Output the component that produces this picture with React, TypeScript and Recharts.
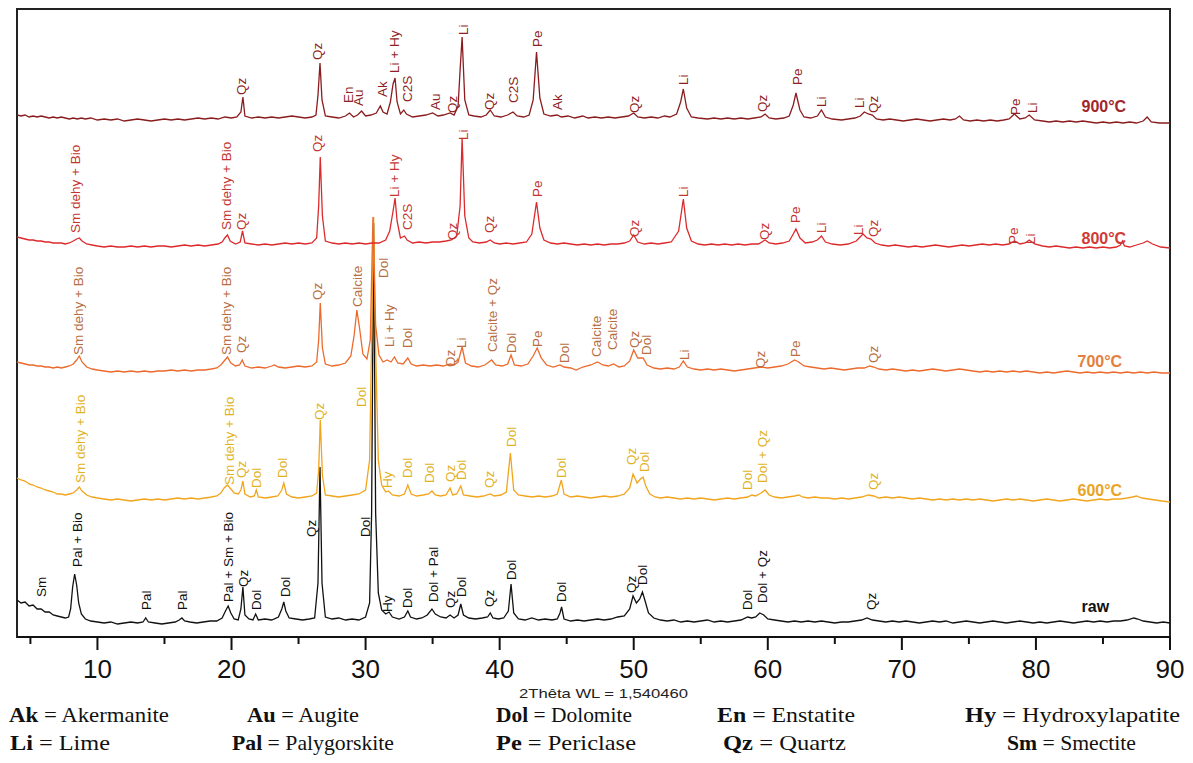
import React from 'react';
import { ComposedChart, Line, XAxis, YAxis, Scatter, ReferenceArea } from 'recharts';

// ---------- axis ----------
const X_DOMAIN: [number, number] = [4, 90];
const Y_DOMAIN: [number, number] = [0, 628];
const X_TICKS = [5, 10, 15, 20, 25, 30, 35, 40, 45, 50, 55, 60, 65, 70, 75, 80, 85, 90];

// ---------- vertical offsets of stacked patterns ----------
const OFFSET_RAW = 14;
const OFFSET_600 = 137;
const OFFSET_700 = 267;
const OFFSET_800 = 391;
const OFFSET_900 = 517;

// ---------- diffractograms: [2θ, intensity above own baseline] ----------
const RAW_PATTERN: [number, number][] = [
  [4.0,23],[4.3,20],[4.6,21],[4.9,17],[5.2,18],[5.5,14],[5.8,14],[6.1,11],[6.4,11],[6.7,8],[7.0,7],[7.3,6],[7.6,5],[7.85,6],[8.0,14],[8.15,36],[8.3,49],[8.45,38],[8.6,20],[8.8,9],[9.1,4],[9.5,2],[10.0,1],[10.5,0],[11.0,1],[11.5,-1],[12.0,0],[12.5,1],[13.0,0],[13.4,1],[13.6,5],[13.8,1],[14.3,0],[14.8,-1],[15.3,0],[15.8,1],[16.1,3],[16.3,5],[16.5,2],[16.9,1],[17.4,0],[17.9,1],[18.4,2],[18.9,2],[19.3,5],[19.55,12],[19.75,17],[19.95,10],[20.2,4],[20.5,3],[20.7,14],[20.85,36],[21.0,8],[21.3,4],[21.6,3],[21.8,9],[22.0,3],[22.5,4],[23.0,3],[23.5,6],[23.75,14],[23.9,21],[24.05,12],[24.3,5],[24.8,4],[25.3,3],[25.8,4],[26.2,5],[26.45,40],[26.6,156],[26.75,40],[27.0,6],[27.5,4],[28.0,5],[28.5,3],[29.0,4],[29.5,3],[30.0,6],[30.3,20],[30.45,110],[30.6,400],[30.75,110],[30.95,30],[31.2,13],[31.5,9],[31.75,11],[32.0,6],[32.5,4],[32.9,6],[33.15,12],[33.35,6],[33.8,4],[34.2,5],[34.6,8],[34.95,14],[35.2,9],[35.6,6],[36.0,5],[36.3,8],[36.6,5],[36.9,8],[37.1,19],[37.3,8],[37.7,5],[38.2,4],[38.7,5],[39.1,6],[39.3,10],[39.5,5],[39.9,4],[40.3,5],[40.65,12],[40.85,39],[41.05,10],[41.4,4],[41.9,3],[42.4,5],[42.9,3],[43.4,4],[43.9,3],[44.3,4],[44.5,10],[44.62,16],[44.8,4],[45.3,2],[45.8,3],[46.3,2],[46.8,3],[47.3,4],[47.8,3],[48.3,4],[48.8,6],[49.3,7],[49.7,14],[49.95,27],[50.2,20],[50.45,24],[50.65,31],[50.85,22],[51.1,10],[51.5,5],[52.0,3],[52.5,2],[53.0,3],[53.5,1],[54.0,2],[54.5,1],[55.0,2],[55.5,3],[56.0,1],[56.5,2],[57.0,1],[57.5,2],[58.0,3],[58.5,6],[58.8,5],[59.1,6],[59.4,10],[59.7,8],[60.0,4],[60.5,3],[61.0,2],[61.5,1],[62.0,2],[62.5,1],[63.0,2],[63.5,1],[64.0,2],[64.5,1],[65.0,0],[65.5,1],[66.0,1],[66.5,2],[67.0,3],[67.4,5],[67.8,3],[68.3,2],[68.8,1],[69.3,2],[69.8,1],[70.3,2],[70.8,1],[71.3,0],[71.8,1],[72.3,2],[72.8,1],[73.3,2],[73.8,0],[74.3,1],[74.8,2],[75.3,1],[75.8,0],[76.3,1],[76.8,2],[77.3,1],[77.8,0],[78.3,1],[78.8,2],[79.3,1],[79.8,0],[80.3,1],[80.8,0],[81.3,1],[81.8,2],[82.3,1],[82.8,0],[83.3,1],[83.8,2],[84.3,1],[84.8,2],[85.3,1],[85.8,2],[86.3,2],[86.8,3],[87.3,5],[87.6,4],[88.0,2],[88.5,1],[89.0,0],[89.5,1],[90.0,0]
];

const P600_PATTERN: [number, number][] = [
  [4.0,22],[4.3,20],[4.6,19],[4.9,16],[5.2,15],[5.5,13],[5.8,12],[6.1,10],[6.4,9],[6.7,8],[7.0,6],[7.3,6],[7.6,5],[7.9,6],[8.2,7],[8.45,10],[8.65,13],[8.85,9],[9.2,5],[9.6,3],[10.0,2],[10.5,1],[11.0,0],[11.5,1],[12.0,0],[12.5,-1],[13.0,0],[13.5,1],[14.0,0],[14.5,1],[15.0,0],[15.5,1],[16.0,2],[16.5,1],[17.0,2],[17.5,1],[18.0,2],[18.5,3],[18.9,4],[19.2,7],[19.45,12],[19.7,15],[19.95,11],[20.2,7],[20.5,6],[20.7,10],[20.85,19],[21.0,6],[21.4,3],[21.7,4],[21.85,10],[22.0,3],[22.5,2],[23.0,3],[23.45,4],[23.75,10],[23.9,17],[24.1,6],[24.5,3],[25.0,2],[25.5,3],[26.0,4],[26.35,7],[26.5,30],[26.62,80],[26.78,25],[27.0,5],[27.5,4],[28.0,3],[28.5,4],[29.0,5],[29.5,6],[30.0,10],[30.3,40],[30.45,160],[30.6,283],[30.75,150],[30.95,40],[31.2,15],[31.5,8],[31.7,9],[32.0,5],[32.5,4],[32.9,6],[33.15,15],[33.4,6],[33.8,4],[34.3,5],[34.7,6],[34.95,9],[35.2,5],[35.6,4],[36.0,5],[36.3,12],[36.5,5],[36.8,6],[37.1,14],[37.3,5],[37.8,4],[38.3,3],[38.8,4],[39.3,6],[39.6,4],[40.1,5],[40.5,8],[40.8,47],[41.05,10],[41.4,5],[41.9,4],[42.4,3],[42.9,4],[43.4,3],[43.9,4],[44.3,6],[44.6,20],[44.8,6],[45.3,3],[45.8,4],[46.3,3],[46.8,2],[47.3,3],[47.8,4],[48.3,3],[48.8,4],[49.3,6],[49.7,12],[49.95,26],[50.25,17],[50.5,21],[50.7,23],[50.9,14],[51.2,6],[51.6,3],[52.0,2],[52.5,3],[53.0,2],[53.5,1],[54.0,2],[54.5,1],[55.0,2],[55.5,1],[56.0,0],[56.5,1],[57.0,2],[57.5,1],[58.0,2],[58.5,3],[58.8,5],[59.1,4],[59.5,7],[59.8,10],[60.1,5],[60.5,3],[61.0,2],[61.5,3],[62.0,4],[62.3,5],[62.6,3],[63.0,2],[63.5,3],[64.0,2],[64.5,2],[65.0,1],[65.5,2],[66.0,1],[66.5,2],[67.0,3],[67.5,5],[67.9,4],[68.3,2],[68.8,3],[69.3,2],[69.8,3],[70.3,2],[70.8,1],[71.3,2],[71.8,1],[72.3,0],[72.8,1],[73.3,0],[73.8,1],[74.3,0],[74.8,1],[75.3,0],[75.8,1],[76.3,0],[76.8,-1],[77.3,0],[77.8,1],[78.3,0],[78.8,1],[79.3,0],[79.8,-1],[80.3,0],[80.8,1],[81.3,0],[81.8,-1],[82.3,0],[82.8,1],[83.3,0],[83.8,-1],[84.3,0],[84.8,1],[85.3,0],[85.8,1],[86.3,1],[86.8,2],[87.2,3],[87.5,4],[87.9,2],[88.4,1],[88.9,0],[89.4,-1],[90.0,-2]
];

const P700_PATTERN: [number, number][] = [
  [4.0,8],[4.3,7],[4.6,6],[4.9,5],[5.2,5],[5.5,4],[5.8,4],[6.1,3],[6.4,3],[6.7,2],[7.0,3],[7.3,2],[7.6,3],[7.9,4],[8.2,6],[8.45,10],[8.65,14],[8.85,8],[9.2,3],[9.6,1],[10.0,0],[10.5,-1],[11.0,-2],[11.5,-1],[12.0,-2],[12.5,-1],[13.0,-2],[13.5,-1],[14.0,-2],[14.5,-1],[15.0,-1],[15.5,0],[16.0,-1],[16.5,0],[17.0,-1],[17.5,0],[18.0,0],[18.5,1],[18.9,2],[19.2,5],[19.45,9],[19.7,13],[19.95,7],[20.3,4],[20.6,5],[20.8,10],[21.0,4],[21.5,2],[22.0,3],[22.5,2],[23.0,4],[23.2,5],[23.5,3],[24.0,2],[24.5,3],[25.0,4],[25.5,3],[26.0,4],[26.35,8],[26.5,30],[26.62,67],[26.78,22],[27.0,6],[27.5,4],[28.0,5],[28.5,7],[28.9,14],[29.15,35],[29.35,60],[29.55,42],[29.8,16],[30.1,11],[30.35,30],[30.55,153],[30.75,45],[31.0,15],[31.3,8],[31.6,10],[31.9,8],[32.15,13],[32.4,7],[32.8,6],[33.15,12],[33.4,6],[33.8,4],[34.3,5],[34.8,4],[35.3,5],[35.8,4],[36.3,6],[36.6,5],[36.9,8],[37.2,23],[37.45,7],[37.9,4],[38.4,3],[38.9,5],[39.2,8],[39.4,10],[39.7,5],[40.2,4],[40.6,6],[40.85,15],[41.1,5],[41.6,4],[42.1,6],[42.5,14],[42.8,22],[43.1,12],[43.5,5],[44.0,3],[44.5,5],[44.8,3],[45.3,2],[45.7,0],[46.2,3],[46.8,5],[47.3,8],[47.7,5],[48.1,4],[48.5,6],[48.9,3],[49.3,4],[49.7,9],[50.0,20],[50.3,12],[50.7,12],[51.0,5],[51.5,2],[52.0,1],[52.5,2],[53.0,1],[53.4,3],[53.7,9],[54.0,3],[54.5,1],[55.0,0],[55.5,1],[56.0,0],[56.5,1],[57.0,0],[57.5,-1],[58.0,0],[58.5,1],[59.0,2],[59.5,3],[60.0,2],[60.5,3],[61.0,4],[61.5,6],[62.0,10],[62.3,8],[62.7,4],[63.2,3],[63.7,2],[64.2,1],[64.7,2],[65.2,1],[65.7,0],[66.2,1],[66.7,2],[67.2,2],[67.6,4],[67.9,3],[68.3,1],[68.8,0],[69.3,1],[69.8,0],[70.3,-1],[70.8,0],[71.3,-1],[71.8,0],[72.3,1],[72.8,0],[73.3,-1],[73.8,0],[74.3,1],[74.8,0],[75.3,-1],[75.8,-2],[76.3,-1],[76.8,-2],[77.3,-1],[77.8,-2],[78.3,-1],[78.8,-2],[79.3,-1],[79.8,-2],[80.3,-3],[80.8,-2],[81.3,-3],[81.8,-2],[82.3,-1],[82.8,-2],[83.3,-3],[83.8,-2],[84.3,-3],[84.8,-2],[85.3,-3],[85.8,-2],[86.3,-3],[86.8,-2],[87.3,-3],[87.8,-2],[88.3,-3],[88.8,-2],[89.4,-3],[90.0,-3]
];

const P800_PATTERN: [number, number][] = [
  [4.0,9],[4.3,8],[4.6,7],[4.9,6],[5.2,6],[5.5,5],[5.8,5],[6.1,4],[6.4,4],[6.7,3],[7.0,3],[7.3,3],[7.6,2],[7.9,3],[8.2,5],[8.45,7],[8.65,8],[8.85,5],[9.2,2],[9.6,1],[10.0,0],[10.5,-1],[11.0,0],[11.5,-1],[12.0,-1],[12.5,0],[13.0,-1],[13.5,0],[14.0,-1],[14.5,0],[15.0,0],[15.5,-1],[16.0,0],[16.5,1],[17.0,0],[17.5,1],[18.0,0],[18.5,1],[19.0,2],[19.3,4],[19.5,8],[19.7,11],[19.9,5],[20.3,2],[20.65,4],[20.82,15],[21.0,3],[21.5,2],[22.0,1],[22.5,2],[23.0,1],[23.5,2],[24.0,3],[24.5,2],[25.0,3],[25.5,2],[26.0,3],[26.35,8],[26.5,40],[26.62,89],[26.78,30],[27.0,5],[27.5,3],[28.0,2],[28.5,3],[29.0,2],[29.5,3],[30.0,2],[30.5,3],[31.0,3],[31.5,6],[31.8,15],[32.05,35],[32.2,48],[32.35,25],[32.6,8],[32.9,10],[33.1,6],[33.5,3],[34.0,4],[34.5,3],[35.0,4],[35.5,4],[36.0,5],[36.4,6],[36.8,10],[37.05,40],[37.2,108],[37.4,30],[37.7,8],[38.0,4],[38.5,3],[39.0,4],[39.3,6],[39.6,3],[40.0,2],[40.5,3],[41.0,2],[41.5,3],[42.0,4],[42.4,12],[42.75,44],[43.0,18],[43.3,6],[43.8,3],[44.3,2],[44.8,3],[45.3,2],[45.8,1],[46.3,2],[46.8,1],[47.3,2],[47.8,1],[48.3,2],[48.8,2],[49.3,3],[49.7,5],[50.0,11],[50.3,4],[50.8,2],[51.3,3],[51.8,2],[52.3,3],[52.8,4],[53.35,15],[53.7,47],[53.95,18],[54.3,5],[54.8,2],[55.3,1],[55.8,2],[56.3,1],[56.8,2],[57.3,1],[57.8,2],[58.3,1],[58.8,2],[59.3,2],[59.8,6],[60.1,3],[60.6,2],[61.1,3],[61.6,5],[61.9,12],[62.1,17],[62.4,8],[62.8,3],[63.3,4],[63.7,6],[64.0,10],[64.3,4],[64.8,2],[65.4,1],[66.0,2],[66.6,5],[67.1,12],[67.4,8],[67.7,7],[68.0,3],[68.5,1],[69.0,0],[69.5,1],[70.0,0],[70.5,-1],[71.0,0],[71.5,-1],[72.0,0],[72.5,1],[73.0,0],[73.5,-1],[74.0,0],[74.5,1],[75.0,0],[75.5,1],[76.0,2],[76.5,1],[77.0,2],[77.5,1],[78.0,2],[78.4,5],[78.8,2],[79.2,3],[79.5,6],[79.9,2],[80.5,0],[81.0,-1],[81.5,0],[82.0,-1],[82.5,-2],[83.0,-1],[83.5,-2],[84.0,-1],[84.5,-2],[85.0,-1],[85.5,-2],[86.0,-1],[86.3,1],[86.45,5],[86.6,0],[87.0,-1],[87.5,1],[88.0,3],[88.3,5],[88.7,2],[89.3,-1],[90.0,-2]
];

const P900_PATTERN: [number, number][] = [
  [4.0,5],[4.3,4],[4.6,5],[4.9,3],[5.2,4],[5.5,3],[5.8,4],[6.1,3],[6.4,2],[6.7,3],[7.0,2],[7.3,3],[7.6,2],[7.9,1],[8.2,2],[8.5,1],[8.8,2],[9.1,1],[9.5,2],[10.0,0],[10.5,1],[11.0,0],[11.5,1],[12.0,-1],[12.5,0],[13.0,1],[13.5,0],[14.0,-1],[14.5,0],[15.0,1],[15.5,0],[16.0,1],[16.5,0],[17.0,1],[17.5,2],[18.0,1],[18.5,2],[19.0,1],[19.5,3],[20.0,2],[20.4,3],[20.7,8],[20.85,23],[21.0,4],[21.5,2],[22.0,3],[22.5,2],[23.0,3],[23.5,2],[24.0,3],[24.5,4],[25.0,3],[25.5,2],[26.0,3],[26.3,5],[26.45,25],[26.6,57],[26.75,20],[27.0,4],[27.5,3],[28.0,2],[28.5,4],[28.8,7],[29.1,3],[29.4,5],[29.7,9],[30.0,4],[30.4,5],[30.8,7],[31.1,14],[31.3,8],[31.6,6],[31.85,18],[32.05,36],[32.2,42],[32.35,18],[32.6,6],[32.85,10],[33.05,6],[33.5,3],[34.0,4],[34.5,5],[35.0,7],[35.4,4],[35.8,5],[36.3,7],[36.6,5],[36.9,14],[37.05,50],[37.2,83],[37.4,20],[37.7,5],[38.1,4],[38.6,3],[39.0,5],[39.3,10],[39.6,4],[40.1,3],[40.6,5],[41.0,8],[41.3,4],[41.8,3],[42.2,5],[42.5,20],[42.75,68],[43.0,22],[43.3,6],[43.8,4],[44.3,5],[44.6,3],[45.1,4],[45.6,2],[46.2,4],[46.6,2],[47.1,3],[47.6,2],[48.1,3],[48.6,2],[49.1,3],[49.6,4],[50.0,7],[50.3,3],[50.8,2],[51.3,3],[51.8,2],[52.3,4],[52.7,3],[53.2,6],[53.5,18],[53.7,31],[53.95,12],[54.3,3],[54.8,2],[55.5,1],[56.0,2],[56.5,1],[57.0,2],[57.5,1],[58.0,2],[58.5,1],[59.0,2],[59.5,3],[59.8,6],[60.1,2],[60.6,1],[61.2,2],[61.6,4],[61.9,15],[62.1,27],[62.4,10],[62.7,3],[63.2,2],[63.7,4],[64.0,10],[64.3,3],[64.8,1],[65.5,0],[66.0,1],[66.5,2],[66.9,4],[67.2,8],[67.5,6],[67.8,5],[68.1,1],[68.6,0],[69.1,1],[69.6,0],[70.1,-1],[70.6,0],[71.1,1],[71.6,0],[72.1,-1],[72.6,0],[73.1,1],[73.6,0],[74.0,1],[74.3,4],[74.6,0],[75.1,-1],[75.6,0],[76.1,-1],[76.6,0],[77.1,-1],[77.6,0],[78.0,1],[78.4,6],[78.8,1],[79.2,2],[79.5,5],[79.9,0],[80.5,-1],[81.0,-2],[81.5,-1],[82.0,-2],[82.5,-1],[83.0,-2],[83.5,-1],[84.0,-2],[84.5,-3],[85.0,-2],[85.5,-3],[86.0,-2],[86.5,-3],[87.0,-2],[87.5,-3],[88.0,-1],[88.3,3],[88.6,-2],[89.2,-3],[90.0,-3]
];

// ---------- phase labels: [2θ, level above baseline, text] ----------
const RAW_LABELS: [number, number, string][] = [
  [5.86,26,'Sm'],[8.48,56,'Pal + Bio'],[13.67,13,'Pal'],[16.31,13,'Pal'],[19.74,21,'Pal + Sm + Bio'],[20.86,36,'Qz'],[21.83,13,'Dol'],[23.99,26,'Dol'],[26.0,86,'Qz'],[29.96,86,'Dol'],[31.67,11,'Hy'],[33.16,15,'Dol'],[35.03,21,'Dol + Pal'],[36.3,15,'Qz'],[37.19,26,'Dol'],[39.28,16,'Qz'],[40.92,43,'Dol'],[44.65,21,'Dol'],[49.87,30,'Qz'],[50.69,38,'Dol'],[58.52,13,'Dol'],[59.57,20,'Dol + Qz'],[67.77,13,'Qz']
];
const P600_LABELS: [number, number, string][] = [
  [8.7,17,'Sm dehy + Bio'],[19.82,15,'Sm dehy + Bio'],[20.78,22,'Qz'],[21.83,12,'Dol'],[23.84,22,'Dol'],[26.53,80,'Qz'],[29.73,93,'Dol'],[31.67,12,'Hy'],[33.16,22,'Dol'],[34.8,17,'Dol'],[36.3,18,'Qz'],[37.19,20,'Dol'],[39.28,12,'Qz'],[40.92,53,'Dol'],[44.65,22,'Dol'],[49.87,35,'Qz'],[50.84,28,'Dol'],[58.52,10,'Dol'],[59.57,17,'Dol + Qz'],[67.85,10,'Qz']
];
const P700_LABELS: [number, number, string][] = [
  [8.55,15,'Sm dehy + Bio'],[19.66,15,'Sm dehy + Bio'],[20.78,17,'Qz'],[26.45,70,'Qz'],[29.36,63,'Calcite'],[31.3,92,'Dol'],[31.82,23,'Li + Hy'],[33.16,22,'Dol'],[36.3,3,'Qz'],[37.19,22,'Li'],[39.5,18,'Calcite + Qz'],[40.92,17,'Dol'],[42.79,23,'Pe'],[44.87,7,'Dol'],[47.26,13,'Calcite'],[48.45,20,'Calcite'],[50.09,22,'Qz'],[50.99,15,'Dol'],[53.82,10,'Li'],[59.42,2,'Qz'],[62.1,13,'Pe'],[67.85,7,'Qz']
];
const P800_LABELS: [number, number, string][] = [
  [8.33,13,'Sm dehy + Bio'],[19.66,16,'Sm dehy + Bio'],[20.78,16,'Qz'],[26.45,94,'Qz'],[32.19,49,'Li + Hy'],[33.09,16,'C2S'],[36.45,6,'Qz'],[37.27,106,'Li'],[39.28,13,'Qz'],[42.79,49,'Pe'],[50.09,9,'Qz'],[53.75,49,'Li'],[59.79,6,'Qz'],[62.1,23,'Pe'],[64.0,13,'Li'],[66.8,11,'Li'],[67.85,9,'Qz'],[78.3,2,'Pe'],[79.6,2,'Li']
];
const P900_LABELS: [number, number, string][] = [
  [20.78,25,'Qz'],[26.45,60,'Qz'],[28.76,17,'En'],[29.5,14,'Au'],[31.27,23,'Ak'],[32.19,47,'Li + Hy'],[33.09,18,'C2S'],[35.18,10,'Au'],[36.45,7,'Qz'],[37.27,85,'Li'],[39.28,10,'Qz'],[41.0,17,'C2S'],[42.79,73,'Pe'],[44.28,10,'Ak'],[50.09,7,'Qz'],[53.75,35,'Li'],[59.64,8,'Qz'],[62.18,35,'Pe'],[64.04,13,'Li'],[66.85,12,'Li'],[67.85,7,'Qz'],[78.44,5,'Pe'],[79.71,7,'Li']
];

// ---------- sample names: [text, 2θ of left edge, level above baseline] ----------
const SAMPLE_NAMES = ['raw', '600°C', '700°C', '800°C', '900°C'];
const SAMPLE_NAME_X = [83.4, 83.1, 83.1, 83.4, 83.4];
const SAMPLE_NAME_LEVEL = [17, 10, 9, 8, 14];

// ---------- legend of phases ----------
const LEGEND_ROW1: [string, string][] = [['Ak', 'Akermanite'], ['Au', 'Augite'], ['Dol', 'Dolomite'], ['En', 'Enstatite'], ['Hy', 'Hydroxylapatite']];
const LEGEND_ROW2: [string, string][] = [['Li', 'Lime'], ['Pal', 'Palygorskite'], ['Pe', 'Periclase'], ['Qz', 'Quartz'], ['Sm', 'Smectite']];

// layout of the legend (pixels)
const LEGEND_COL_X1 = [9, 247, 496, 717, 965];
const LEGEND_COL_X2 = [10, 232, 496, 723, 1007];
const LEGEND_W1 = [160, 112, 136, 138, 215];
const LEGEND_W2 = [100, 162, 140, 123, 129];

const X_TITLE = '2Thêta WL = 1,540460';

// ---------- styles ----------
const SERIES = [
  { key: 'raw', pattern: RAW_PATTERN, labels: RAW_LABELS, offset: OFFSET_RAW, line: '#111111', text: '#111111', name: '#111111' },
  { key: '600', pattern: P600_PATTERN, labels: P600_LABELS, offset: OFFSET_600, line: '#f2a51c', text: '#e2b21e', name: '#e9a426' },
  { key: '700', pattern: P700_PATTERN, labels: P700_LABELS, offset: OFFSET_700, line: '#ec6a2c', text: '#b86e42', name: '#e3803e' },
  { key: '800', pattern: P800_PATTERN, labels: P800_LABELS, offset: OFFSET_800, line: '#dc2a2c', text: '#c4352f', name: '#d13a35' },
  { key: '900', pattern: P900_PATTERN, labels: P900_LABELS, offset: OFFSET_900, line: '#8a1c1e', text: '#8f1f24', name: '#a3262a' },
];

const SANS = 'Liberation Sans, Arial, Helvetica, sans-serif';
const SERIF = "'Liberation Serif', 'Times New Roman', serif";

const makeRotated = (color: string) => (props: any) => {
  const { cx, cy, payload } = props;
  if (cx == null || cy == null) return <g />;
  return (
    <text
      x={cx}
      y={cy}
      transform={`rotate(-90 ${cx} ${cy})`}
      textAnchor="start"
      dominantBaseline="central"
      fontSize={13.5}
      fontFamily={SANS}
      fill={color}
    >
      {payload.text}
    </text>
  );
};

const makeName = (color: string) => (props: any) => {
  const { cx, cy, payload } = props;
  if (cx == null || cy == null) return <g />;
  return (
    <text x={cx} y={cy} textAnchor="start" dominantBaseline="central" fontSize={16} fontWeight="bold" fontFamily={SANS} fill={color}>
      {payload.text}
    </text>
  );
};

const AxisTick = (props: any) => {
  const { x, y, payload } = props;
  const major = payload.value % 10 === 0;
  return (
    <g>
      <line x1={x} x2={x} y1={y} y2={y + (major ? 13 : 7)} stroke="#111" strokeWidth={2} />
      {major && (
        <text x={x} y={y + 32} textAnchor="middle" dominantBaseline="central" fontSize={26} fontFamily={SANS} fill="#111">
          {payload.value}
        </text>
      )}
    </g>
  );
};

export default function App() {
  return (
    <div style={{ position: 'absolute', left: 0, top: 0, width: 1193, height: 763, background: '#fff' }}>
      <ComposedChart width={1193} height={690} margin={{ top: 9, right: 23, bottom: 13, left: 17 }}>
        <XAxis
          type="number"
          dataKey="x"
          domain={X_DOMAIN}
          ticks={X_TICKS}
          allowDataOverflow
          interval={0}
          height={40}
          tickSize={0}
          tickMargin={0}
          tickLine={false}
          axisLine={{ stroke: '#111', strokeWidth: 2 }}
          tick={<AxisTick />}
        />
        <YAxis type="number" dataKey="y" domain={Y_DOMAIN} allowDataOverflow hide />
        <ReferenceArea x1={X_DOMAIN[0]} x2={X_DOMAIN[1]} y1={Y_DOMAIN[0]} y2={Y_DOMAIN[1]} fill="none" fillOpacity={0} stroke="#222" strokeWidth={2} />
        {SERIES.map((s) => (
          <Line
            key={`line-${s.key}`}
            data={s.pattern.map(([x, v]) => ({ x, y: v + s.offset }))}
            dataKey="y"
            type="linear"
            stroke={s.line}
            strokeWidth={1.3}
            dot={false}
            activeDot={false}
            isAnimationActive={false}
          />
        ))}
        {SERIES.map((s) => (
          <Scatter
            key={`lab-${s.key}`}
            data={s.labels.map(([x, v, text]) => ({ x, y: v + s.offset, text }))}
            dataKey="y"
            shape={makeRotated(s.text)}
            isAnimationActive={false}
          />
        ))}
        {SERIES.map((s, i) => (
          <Scatter
            key={`name-${s.key}`}
            data={[{ x: SAMPLE_NAME_X[i], y: SAMPLE_NAME_LEVEL[i] + s.offset, text: SAMPLE_NAMES[i] }]}
            dataKey="y"
            shape={makeName(s.name)}
            isAnimationActive={false}
          />
        ))}
      </ComposedChart>
      <svg width={1193} height={763} style={{ position: 'absolute', left: 0, top: 0, pointerEvents: 'none' }}>
        <text x={519} y={698} textLength={169} lengthAdjust="spacingAndGlyphs" fontSize={13} fontFamily={SANS} fill="#222">
          {X_TITLE}
        </text>
        {LEGEND_ROW1.map(([abbr, full], i) => (
          <text key={`l1-${abbr}`} x={LEGEND_COL_X1[i]} y={722} textLength={LEGEND_W1[i]} lengthAdjust="spacingAndGlyphs" fontSize={22} fontFamily={SERIF} fill="#111">
            <tspan fontWeight="bold">{abbr}</tspan>
            <tspan>{` = ${full}`}</tspan>
          </text>
        ))}
        {LEGEND_ROW2.map(([abbr, full], i) => (
          <text key={`l2-${abbr}`} x={LEGEND_COL_X2[i]} y={750} textLength={LEGEND_W2[i]} lengthAdjust="spacingAndGlyphs" fontSize={22} fontFamily={SERIF} fill="#111">
            <tspan fontWeight="bold">{abbr}</tspan>
            <tspan>{` = ${full}`}</tspan>
          </text>
        ))}
      </svg>
    </div>
  );
}
